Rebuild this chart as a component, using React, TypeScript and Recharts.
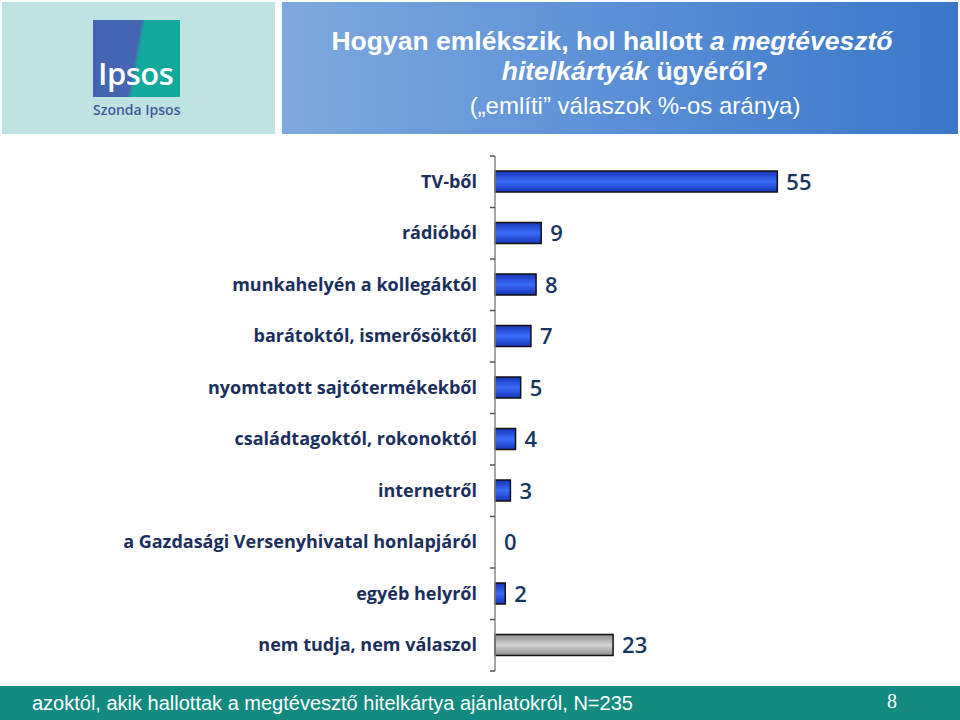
import React from 'react';
import { BarChart, Bar, XAxis, YAxis, Cell, LabelList } from 'recharts';

const categories = [
  'TV-ből',
  'rádióból',
  'munkahelyén a kollegáktól',
  'barátoktól, ismerősöktől',
  'nyomtatott sajtótermékekből',
  'családtagoktól, rokonoktól',
  'internetről',
  'a Gazdasági Versenyhivatal honlapjáról',
  'egyéb helyről',
  'nem tudja, nem válaszol',
];
const values = [55, 9, 8, 7, 5, 4, 3, 0, 2, 23];
const isOther = [false, false, false, false, false, false, false, false, false, true];

const data = categories.map((c, i) => ({ name: c, value: values[i], other: isOther[i] }));

const PLOT_TOP = 156;
const PLOT_BOTTOM = 49;
const CHART_H = 720;
const MARGIN_LEFT = 115;
const YAXIS_W = 380;
const PLOT_LEFT = MARGIN_LEFT + YAXIS_W;
const BAND = (CHART_H - PLOT_TOP - PLOT_BOTTOM) / categories.length;

const CatTick = (props: any) => {
  const { x, y, payload, index } = props;
  const ax = Number(x);
  const ay = Number(y);
  return (
    <g>
      <line x1={PLOT_LEFT - 5} x2={PLOT_LEFT} y1={ay - BAND / 2} y2={ay - BAND / 2} stroke="#555555" strokeWidth={1.5} />
      {index === categories.length - 1 && (
        <line x1={PLOT_LEFT - 5} x2={PLOT_LEFT} y1={ay + BAND / 2} y2={ay + BAND / 2} stroke="#555555" strokeWidth={1.5} />
      )}
      <text x={ax - 10} y={ay} dy={6} textAnchor="end" fill="#1b2f5c" fontFamily="'Open Sans', sans-serif" fontWeight={700} fontSize={18}>
        {payload.value}
      </text>
    </g>
  );
};

const ValueLabel = (props: any) => {
  const { x, y, width, height, value } = props;
  return (
    <text
      x={Number(x) + Number(width) + 9}
      y={Number(y) + Number(height) / 2}
      dy={8}
      textAnchor="start"
      fill="#17365f"
      fontSize={22}
      fontWeight={600}
      fontFamily="'Open Sans', sans-serif"
    >
      {value}
    </text>
  );
};

export default function App() {
  return (
    <div style={{ position: 'absolute', left: 0, top: 0, width: 960, height: 720, background: '#fff', overflow: 'hidden' }}>
      <div style={{ position: 'absolute', left: 0, top: 0 }}>
        <BarChart
          width={960}
          height={CHART_H}
          data={data}
          layout="vertical"
          margin={{ top: PLOT_TOP, bottom: PLOT_BOTTOM, left: MARGIN_LEFT, right: 157 }}
        >
          <defs>
            <linearGradient id="blueGrad" x1="0" y1="0" x2="0" y2="1">
              <stop offset="0%" stopColor="#1634b8" />
              <stop offset="50%" stopColor="#3a6cf8" />
              <stop offset="100%" stopColor="#1634b8" />
            </linearGradient>
            <linearGradient id="grayGrad" x1="0" y1="0" x2="0" y2="1">
              <stop offset="0%" stopColor="#8a8a8a" />
              <stop offset="50%" stopColor="#d6d6d6" />
              <stop offset="100%" stopColor="#8a8a8a" />
            </linearGradient>
          </defs>
          <XAxis type="number" domain={[0, 60]} hide />
          <YAxis
            type="category"
            dataKey="name"
            width={YAXIS_W}
            axisLine={{ stroke: '#888', strokeWidth: 1.5 }}
            tickLine={false}
            tick={<CatTick />}
            interval={0}
          />
          <Bar
            dataKey="value"
            barSize={21}
            stroke="#111"
            strokeWidth={1.5}
            minPointSize={(v: number) => (v === 0 ? 0.01 : 0)}
            isAnimationActive={false}
          >
            {data.map((d, i) => (
              <Cell
                key={i}
                fill={d.other ? 'url(#grayGrad)' : 'url(#blueGrad)'}
                stroke={d.value === 0 ? 'none' : '#111'}
              />
            ))}
            <LabelList dataKey="value" content={<ValueLabel />} />
          </Bar>
        </BarChart>
      </div>

      {/* Logo box */}
      <div style={{ position: 'absolute', left: 2, top: 2, width: 273, height: 132, background: '#bfe3e2' }}>
        <div style={{ position: 'absolute', left: 91, top: 18, width: 87, height: 77, background: 'linear-gradient(100deg, #4466b2 0%, #4466b2 48%, #13a89c 52%, #13a89c 100%)' }}>
          <div style={{ position: 'absolute', left: 5, top: 32, color: '#fff', fontFamily: "'Open Sans', sans-serif", fontWeight: 600, fontSize: 31, letterSpacing: -0.5 }}>Ipsos</div>
        </div>
        <div style={{ position: 'absolute', left: 91, top: 98, color: '#3d5a9c', fontFamily: "'Open Sans', sans-serif", fontWeight: 600, fontSize: 14 }}>Szonda Ipsos</div>
      </div>

      {/* Title box */}
      <div style={{ position: 'absolute', left: 282, top: 2, width: 676, height: 132, background: 'linear-gradient(90deg, #7fa9de 0%, #5b8fd6 50%, #3a78c8 100%)' }}>
        <div style={{ position: 'absolute', left: 30, top: 24, width: 600, textAlign: 'center', color: '#fff', fontFamily: "'Liberation Sans', Arial, sans-serif", fontSize: 26.5, lineHeight: '30px', fontWeight: 700, whiteSpace: 'nowrap' }}>
          Hogyan emlékszik, hol hallott <i>a megtévesztő</i>
        </div>
        <div style={{ position: 'absolute', left: 53, top: 54, width: 600, textAlign: 'center', color: '#fff', fontFamily: "'Liberation Sans', Arial, sans-serif", fontSize: 26.5, lineHeight: '30px', fontWeight: 700, whiteSpace: 'nowrap' }}>
          <i>hitelkártyák</i> ügyéről?
        </div>
        <div style={{ position: 'absolute', left: 53, top: 89, width: 600, textAlign: 'center', color: '#fff', fontFamily: "'Liberation Sans', Arial, sans-serif", fontSize: 24, lineHeight: '30px', whiteSpace: 'nowrap' }}>
          („említi” válaszok %-os aránya)
        </div>
      </div>

      {/* Footer */}
      <div style={{ position: 'absolute', left: 0, top: 686, width: 960, height: 34, background: '#128a80' }}>
        <div style={{ position: 'absolute', left: 32, top: 6, color: '#fff', fontFamily: "'Liberation Sans Narrow', 'Liberation Sans', Arial, sans-serif", fontSize: 20 }}>
          azoktól, akik hallottak a megtévesztő hitelkártya ajánlatokról, N=235
        </div>
        <div style={{ position: 'absolute', left: 887, top: 4, color: '#fff', fontFamily: "'Liberation Serif', serif", fontSize: 20 }}>8</div>
      </div>
    </div>
  );
}
